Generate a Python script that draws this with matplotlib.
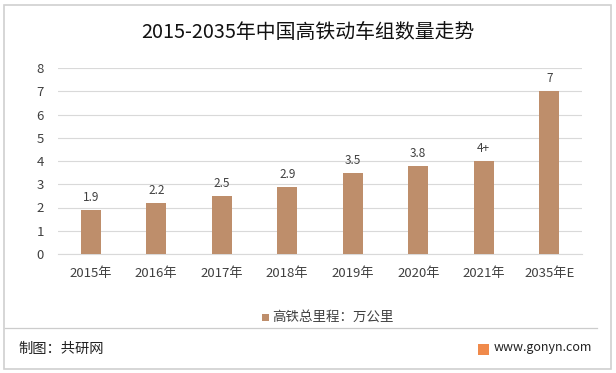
import matplotlib
matplotlib.use("Agg")
import matplotlib.pyplot as plt
from matplotlib.patches import Rectangle

plt.rcParams['font.family'] = ['Noto Sans CJK SC', 'DejaVu Sans']

categories = ["2015年", "2016年", "2017年", "2018年", "2019年", "2020年", "2021年", "2035年E"]
values = [1.9, 2.2, 2.5, 2.9, 3.5, 3.8, 4.0, 7.0]
value_labels = ["1.9", "2.2", "2.5", "2.9", "3.5", "3.8", "4+", "7"]
series_name = "高铁总里程：万公里"
title = "2015-2035年中国高铁动车组数量走势"

W, H = 616, 373
fig = plt.figure(figsize=(W / 100, H / 100), dpi=100)
fig.patch.set_facecolor("white")

# outer border
fig.add_artist(Rectangle((4 / W, 4 / H), 607 / W, 364 / H, transform=fig.transFigure,
                         fill=False, edgecolor="#D0D0D0", linewidth=1.2))

ax = fig.add_axes([58 / W, 1 - 254 / H, (582 - 58) / W, (254 - 68) / H])
bar_color = "#BE8E6B"
x = range(len(categories))
ax.bar(x, values, width=0.3, color=bar_color, zorder=3)
for xi, v, lab in zip(x, values, value_labels):
    ax.text(xi, v + 0.25, lab, ha="center", va="bottom", fontsize=8.5, color="#404040")

ax.set_ylim(0, 8)
ax.set_xlim(-0.5, len(categories) - 0.5)
ax.set_yticks(range(0, 9))
ax.yaxis.grid(True, color="#D9D9D9", linewidth=0.8, zorder=0)
ax.set_xticks(list(x))
ax.set_xticklabels(categories)
for s in ["top", "right", "left"]:
    ax.spines[s].set_visible(False)
ax.spines["bottom"].set_color("#D9D9D9")
ax.tick_params(axis="both", length=0, labelsize=9.5, colors="#404040")
ax.tick_params(axis="x", pad=9)
ax.tick_params(axis="y", pad=10)

fig.text(0.5, 1 - 32 / H, title, ha="center", va="center", fontsize=14.3, color="#111111")

# legend
fig.add_artist(Rectangle((262 / W, 1 - 321 / H), 7 / W, 7 / H, transform=fig.transFigure,
                         facecolor=bar_color, edgecolor="none"))
fig.text(272 / W, 1 - 317 / H, series_name, ha="left", va="center", fontsize=9.7, color="#404040")

# separator
fig.add_artist(plt.Line2D([5 / W, 597 / W], [1 - 328 / H, 1 - 328 / H], transform=fig.transFigure,
                          color="#CCCCCC", linewidth=0.9))

fig.text(18 / W, 1 - 349 / H, "制图：共研网", ha="left", va="center", fontsize=10.3, color="#222222")
fig.add_artist(Rectangle((478 / W, 1 - 355 / H), 11 / W, 11 / H, transform=fig.transFigure,
                         facecolor="#F08A4B", edgecolor="none"))
fig.text(494 / W, 1 - 348 / H, "www.gonyn.com", ha="left", va="center", fontsize=9, color="#222222")

fig.savefig("out.png", dpi=100, facecolor="white")
